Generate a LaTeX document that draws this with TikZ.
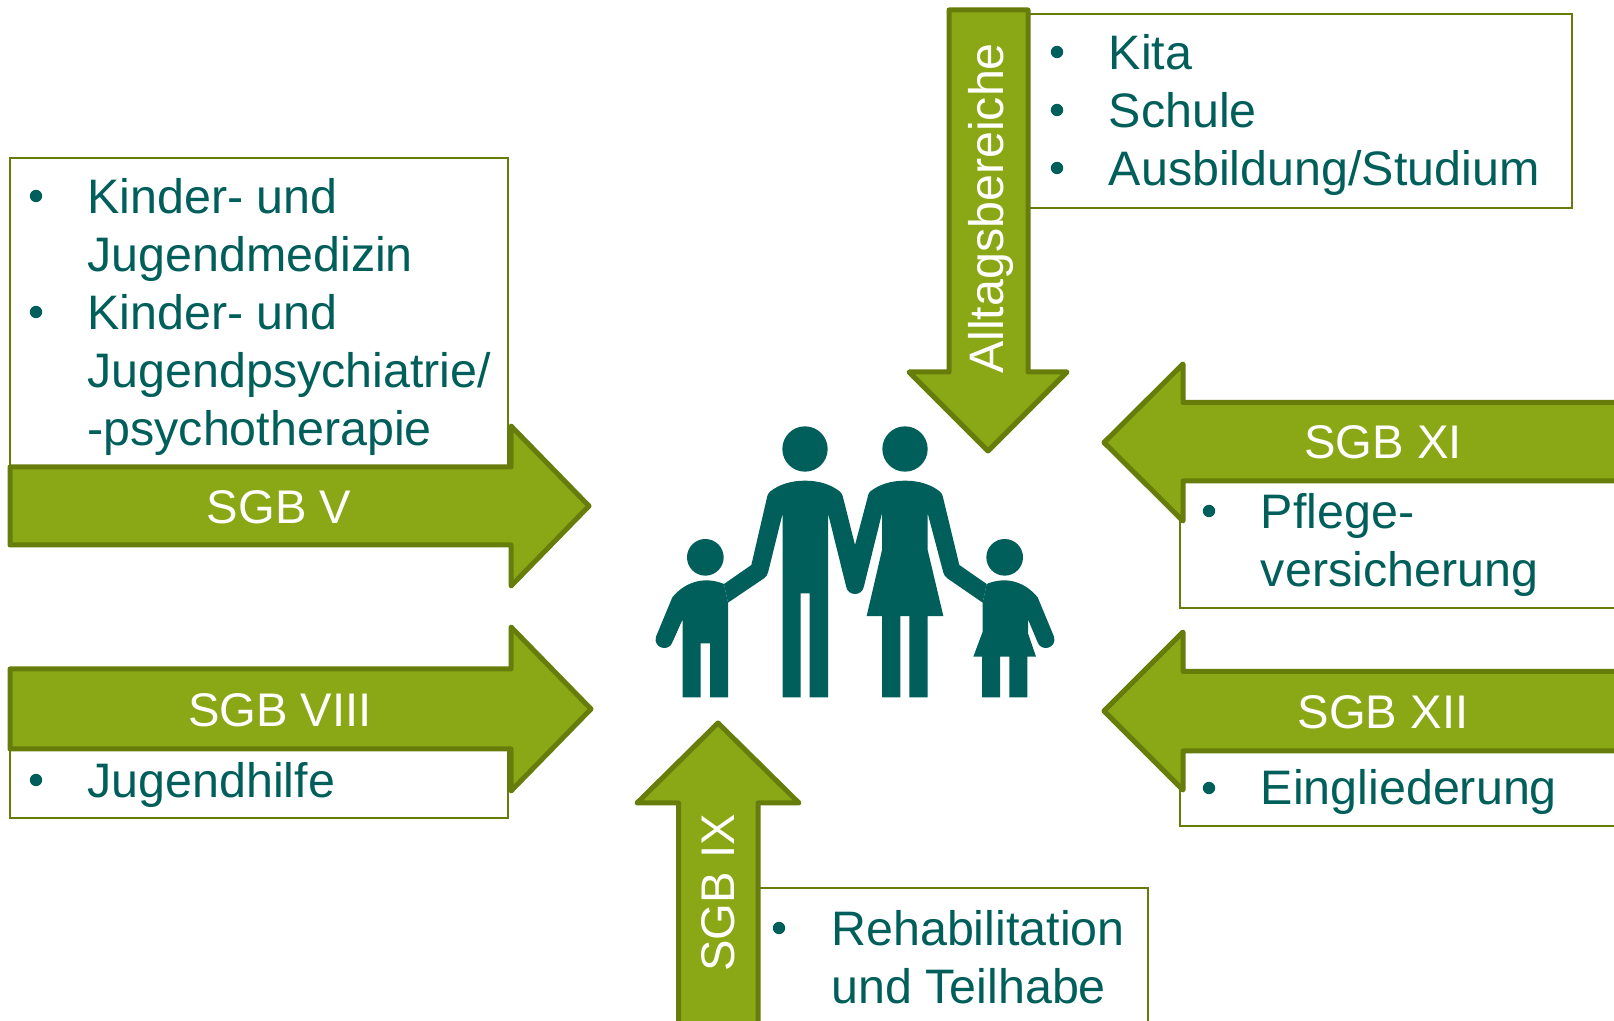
\documentclass[tikz,border=0pt]{standalone}
\usepackage{fontspec}
\setmainfont{Liberation Sans}
\definecolor{teal}{HTML}{005F5A}
\definecolor{leaf}{HTML}{8AA815}
\definecolor{leafdark}{HTML}{667D0C}
\tikzset{
  bigarrow/.style={fill=leaf,draw=leafdark,line width=2.5pt,line join=round},
  listbox/.style={fill=white,draw=leafdark,line width=0.9pt},
  item/.style={anchor=base west,inner sep=0pt,text=teal,font=\fontsize{24.2}{28}\selectfont},
  bul/.style={circle,fill=teal,inner sep=0pt,minimum size=6.2pt},
  arrowlabel/.style={inner sep=0pt,text=white,font=\fontsize{23.6}{28}\selectfont},
  figure/.style={fill=teal,draw=none}
}
\begin{document}
\begin{tikzpicture}[x=0.5pt,y=-0.5pt]
\clip (0,0) rectangle (1614,1021);
\fill[white] (0,0) rectangle (1614,1021);
% boxes
\draw[listbox] (10,158) rectangle (508,467);
\draw[listbox] (10,749) rectangle (508,818);
\draw[listbox] (1027,14) rectangle (1572,208);
\draw[listbox] (1180,481) rectangle (1630,608);
\draw[listbox] (1180,751) rectangle (1630,826);
\draw[listbox] (758,888) rectangle (1148,1040);
% arrows
\draw[bigarrow] (10,467) -- (511,467) -- (511,426) -- (589,506) -- (511,586) -- (511,545) -- (10,545) -- cycle;
\draw[bigarrow] (10,669) -- (511,669) -- (511,627) -- (591,709) -- (511,791) -- (511,749) -- (10,749) -- cycle;
\draw[bigarrow] (949,10) -- (1028,10) -- (1028,372) -- (1067,372) -- (988,451) -- (909,372) -- (949,372) -- cycle;
\draw[bigarrow] (1640,402.5) -- (1183,402.5) -- (1183,364) -- (1104,442.5) -- (1183,521) -- (1183,481) -- (1640,481) -- cycle;
\draw[bigarrow] (1640,671.5) -- (1183,671.5) -- (1183,632) -- (1104,711) -- (1183,790) -- (1183,751) -- (1640,751) -- cycle;
\draw[bigarrow] (678.5,1040) -- (678.5,803) -- (637,803) -- (718,723) -- (799,803) -- (758,803) -- (758,1040) -- cycle;
% arrow labels
\node[arrowlabel] (lv) at (279,507) {SGB V};
\node[arrowlabel] (lviii) at (280,710.5) {SGB VIII};
\node[arrowlabel] (lxi) at (1383,442.5) {SGB XI};
\node[arrowlabel] (lxii) at (1383,712.5) {SGB XII};
\node[arrowlabel,rotate=90] (lix) at (718,893) {SGB IX};
\node[arrowlabel,rotate=90,font=\fontsize{24.2}{28}\selectfont] (lall) at (991,208.5) {Alltagsbereiche};
% lists
\node[bul] (b1) at (1057,52) {};
\node[bul] (b2) at (1057,110) {};
\node[bul] (b3) at (1057,168) {};
\node[item] (t1) at (1108.5,70) {Kita};
\node[item] (t2) at (1108.5,128) {Schule};
\node[item] (t3) at (1108.5,186) {Ausbildung/Studium};
\node[bul] (b4) at (36,196) {};
\node[bul] (b5) at (36,312) {};
\node[item] (t4) at (87,214) {Kinder- und};
\node[item] (t5) at (87,272) {Jugendmedizin};
\node[item] (t6) at (87,330) {Kinder- und};
\node[item] (t7) at (87,388) {Jugendpsychiatrie/};
\node[item] (t8) at (87,446) {-psychotherapie};
\node[bul] (b6) at (36,780) {};
\node[item] (t9) at (87,798) {Jugendhilfe};
\node[bul] (b7) at (1209,511) {};
\node[item] (t10) at (1260.5,529) {Pflege-};
\node[item] (t11) at (1260.5,587) {versicherung};
\node[bul] (b8) at (1209,788) {};
\node[item] (t12) at (1260.5,805) {Eingliederung};
\node[bul] (b9) at (779,928) {};
\node[item] (t13) at (831,945) {Rehabilitation};
\node[item] (t14) at (831,1003) {und Teilhabe};
% family
\begin{scope}[shift={(640,410)},x=0.16667pt,y=-0.16667pt]
\fill[figure] (495,117) circle[radius=68];
\fill[figure] (795,117) circle[radius=68];
\fill[figure] (196,442) circle[radius=55];
\fill[figure] (1094,442) circle[radius=55];
\fill[figure] (495,212) .. controls (450,212) and (415,225) .. (390,245) .. controls (385,250) and (383,254) .. (382,258)
 -- (334,465) -- (252,522) -- (264,578) -- (372,505) .. controls (378,500) and (382,495) .. (384,488)
 -- (428,310) -- (428,862) -- (482,862) -- (482,550) -- (509,550) -- (509,862) -- (564,862) -- (564,310)
 -- (618,528) .. controls (622,560) and (668,560) .. (672,528)
 -- (726,310) -- (726,420) -- (680,618) -- (726,618) -- (726,862) -- (781,862) -- (781,618) -- (808,618) -- (808,862) -- (863,862) -- (863,618) -- (910,618) -- (863,420) -- (863,310)
 -- (910,488) .. controls (912,495) and (916,500) .. (922,505) -- (1028,578) -- (1040,522) -- (958,465)
 -- (908,258) .. controls (907,254) and (905,250) .. (900,245) .. controls (875,225) and (840,212) .. (795,212)
 .. controls (750,212) and (715,225) .. (690,245) .. controls (685,250) and (685,254) .. (684,258)
 -- (645,405) -- (608,258) .. controls (607,254) and (605,250) .. (600,245) .. controls (575,225) and (540,212) .. (495,212) -- cycle;
\fill[figure] (252,522) .. controls (200,500) and (140,510) .. (97,562) -- (48,680)
 .. controls (38,715) and (88,728) .. (98,695) -- (128,628) -- (128,862) -- (182,862) -- (182,700) -- (210,700) -- (210,862) -- (264,862) -- (264,578) -- cycle;
\fill[figure] (1040,522) .. controls (1092,500) and (1150,510) .. (1193,562) -- (1242,680)
 .. controls (1252,715) and (1202,728) .. (1192,695) -- (1164,628) -- (1164,670) -- (1188,740) -- (1162,740) -- (1162,862) -- (1108,862) -- (1108,740) -- (1080,740) -- (1080,862) -- (1026,862) -- (1026,740) -- (1000,740) -- (1028,665) -- (1028,578) -- cycle;
\end{scope}
\end{tikzpicture}
\end{document}
